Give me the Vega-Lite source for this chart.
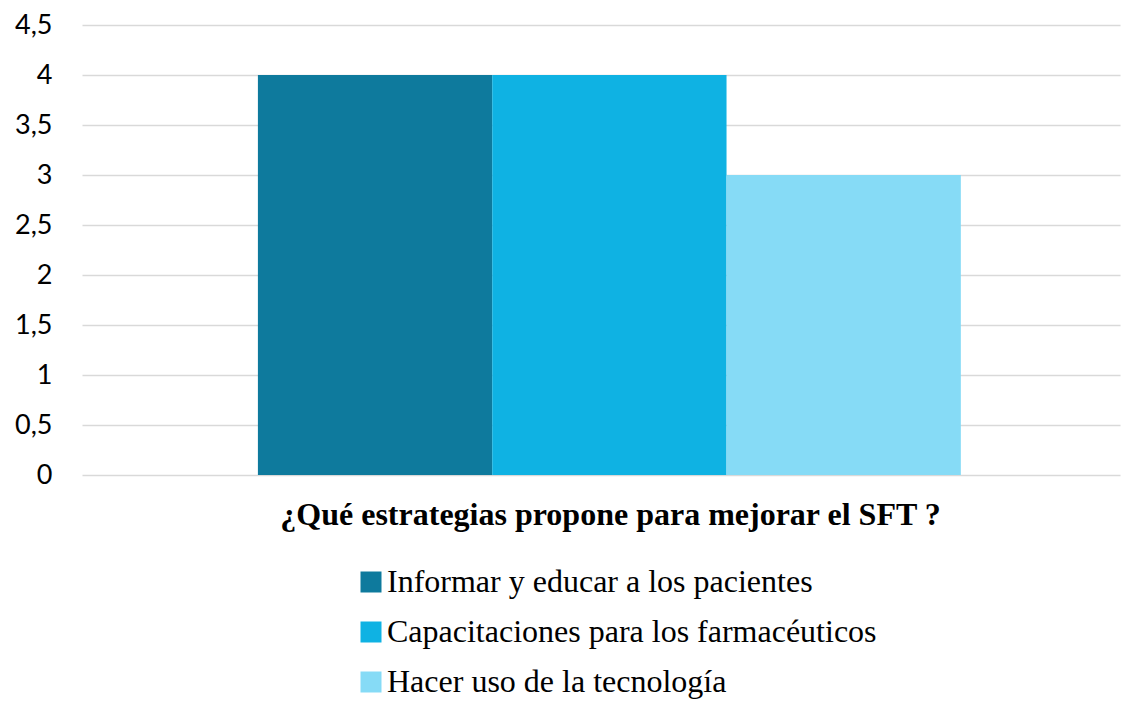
{
  "$schema": "https://vega.github.io/schema/vega-lite/v6.json",
  "autosize": "none",
  "width": 1038,
  "height": 450,
  "padding": {"left": 82, "top": 25, "right": 2, "bottom": 226},
  "background": "white",
  "data": {
    "values": [
      {"serie": "Informar y educar a los pacientes", "valor": 4},
      {"serie": "Capacitaciones para los farmacéuticos", "valor": 4},
      {"serie": "Hacer uso de la tecnología", "valor": 3}
    ]
  },
  "mark": {"type": "bar"},
  "encoding": {
    "x": {
      "field": "serie",
      "type": "nominal",
      "sort": null,
      "scale": {"paddingInner": 0, "paddingOuter": 0.715, "align": 0.525},
      "axis": {
        "title": "¿Qué estrategias propone para mejorar el SFT ?",
        "titleFont": "Liberation Serif",
        "titleFontSize": 32,
        "titleFontWeight": "bold",
        "titleColor": "#000000",
        "titlePadding": 24,
        "titleX": 528,
        "labels": false,
        "ticks": false,
        "domain": false
      }
    },
    "y": {
      "field": "valor",
      "type": "quantitative",
      "scale": {"domain": [0, 4.5], "nice": false},
      "axis": {
        "title": null,
        "values": [0, 0.5, 1, 1.5, 2, 2.5, 3, 3.5, 4, 4.5],
        "labelExpr": "replace(format(datum.value, '~g'), '.', ',')",
        "labelFont": "Lato",
        "labelFontSize": 27,
        "labelColor": "#000000",
        "labelPadding": 30,
        "ticks": false,
        "domain": false,
        "grid": true,
        "gridColor": "#d9d9d9",
        "gridWidth": 1.5
      }
    },
    "color": {
      "field": "serie",
      "type": "nominal",
      "sort": null,
      "scale": {"range": ["#0E7A9D", "#0FB2E3", "#86DBF6"]},
      "legend": {
        "title": null,
        "orient": "none",
        "legendX": 273,
        "legendY": 541,
        "direction": "vertical",
        "symbolType": "square",
        "symbolSize": 441,
        "symbolStrokeWidth": 0,
        "symbolOpacity": 1,
        "labelFont": "Liberation Serif",
        "labelFontSize": 32,
        "labelColor": "#000000",
        "labelLimit": 900,
        "labelOffset": 0,
        "rowPadding": 18
      }
    }
  },
  "config": {"view": {"stroke": null}}
}
